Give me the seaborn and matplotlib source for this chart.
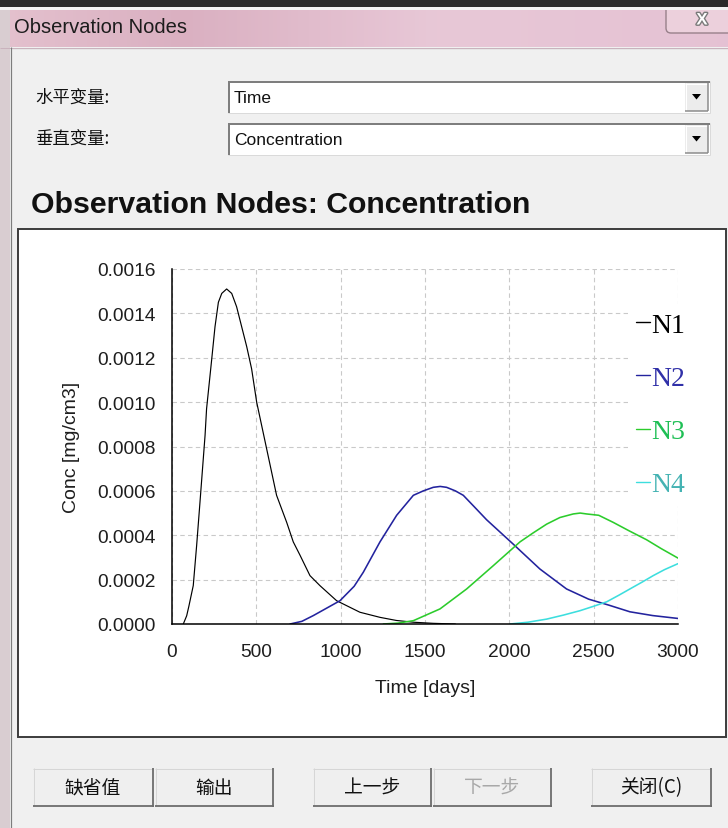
import numpy as np
import pandas as pd
import matplotlib
matplotlib.use("Agg")
import matplotlib.pyplot as plt
import seaborn as sns
from matplotlib.patches import Rectangle, FancyBboxPatch, Polygon
from matplotlib.ticker import FormatStrFormatter
import matplotlib.patheffects as pe

# ---------------- data ----------------
n1_time = [67, 87, 100, 126, 146, 166, 196, 205, 235, 255, 275, 295, 324, 354, 383,
           413, 443, 472, 502, 561, 620, 680, 719, 759, 818, 877, 976, 1114, 1233,
           1330, 1431, 1550, 1680]
n1_conc = [0.0, 0.000037, 0.00008, 0.000173, 0.000353, 0.00055, 0.00085, 0.00097,
           0.00119, 0.00134, 0.00145, 0.00149, 0.00151, 0.00149, 0.00143, 0.00134,
           0.00125, 0.00115, 0.00100, 0.00079, 0.00058, 0.000458, 0.00037, 0.00031,
           0.000218, 0.000173, 0.000105, 0.000053, 0.00003, 0.000016, 0.000008,
           0.000003, 0.0]

n2_time = [700, 770, 838, 996, 1080, 1134, 1233, 1332, 1431, 1490, 1549, 1590, 1628,
           1680, 1727, 1790, 1865, 2023, 2181, 2339, 2470, 2590, 2715, 2850, 3000]
n2_conc = [0.0, 0.000012, 0.000038, 0.000105, 0.00017, 0.000233, 0.00037, 0.00049,
           0.00058, 0.0006, 0.000616, 0.00062, 0.000616, 0.0006, 0.00058, 0.00053,
           0.00047, 0.00036, 0.000248, 0.000158, 0.000112, 0.000085, 0.000055,
           0.000038, 0.000025]

n3_time = [1253, 1340, 1431, 1589, 1747, 1905, 2063, 2140, 2221, 2300, 2379, 2420,
           2458, 2530, 2616, 2710, 2813, 2900, 3000]
n3_conc = [0.0, 0.000004, 0.000015, 0.000068, 0.000158, 0.000263, 0.00037, 0.00041,
           0.00045, 0.00048, 0.000496, 0.0005, 0.000496, 0.00049, 0.000458, 0.00042,
           0.00038, 0.00034, 0.000297]

n4_time = [2004, 2110, 2221, 2320, 2419, 2500, 2577, 2650, 2715, 2790, 2853, 2920, 3000]
n4_conc = [0.0, 0.000008, 0.000022, 0.00004, 0.00006, 0.00008, 0.0001, 0.00013,
           0.000158, 0.00019, 0.000218, 0.000245, 0.000272]

node_names = ["N1", "N2", "N3", "N4"]
line_colors = ["#000000", "#23239e", "#2ccc2c", "#3ddede"]
legend_text_colors = ["#000000", "#3030a8", "#1fbf55", "#45b3b3"]

x_ticks = [0, 500, 1000, 1500, 2000, 2500, 3000]
y_ticks = [0.0, 0.0002, 0.0004, 0.0006, 0.0008, 0.0010, 0.0012, 0.0014, 0.0016]

df = pd.concat([
    pd.DataFrame({"Time": t, "Conc": c, "Node": n})
    for t, c, n in zip([n1_time, n2_time, n3_time, n4_time],
                       [n1_conc, n2_conc, n3_conc, n4_conc], node_names)
], ignore_index=True)

# ---------------- figure / window chrome ----------------
sns.set_theme(style="white")
plt.rcParams["font.family"] = ["Liberation Sans", "Noto Sans CJK SC", "DejaVu Sans"]
CJK = ["Noto Sans CJK SC", "DejaVu Sans"]

W, H = 728, 829
fig = plt.figure(figsize=(W / 100, H / 100), dpi=100)
bg = fig.add_axes([0, 0, 1, 1])
bg.set_xlim(0, W)
bg.set_ylim(H, 0)
bg.axis("off")
bg.set_zorder(0)

PX = 0.72  # one pixel in points


def rect(x0, y0, x1, y1, fc, ec="none", lw=0, z=1):
    bg.add_patch(Rectangle((x0, y0), x1 - x0, y1 - y0, fc=fc, ec=ec, lw=lw, zorder=z))


def seg(x0, y0, x1, y1, c, w=1, z=3):
    bg.plot([x0, x1], [y0, y1], color=c, lw=w * PX, solid_capstyle="butt", zorder=z)


# client area
rect(0, 0, W, H, "#f0f0f0", z=0)
# title bar gradient (pink)
grad_x = np.linspace(0, 1, 200)
cl = np.array([0.894, 0.757, 0.808])
cd = np.array([0.855, 0.690, 0.757])
cm = np.array([0.910, 0.784, 0.843])
ce = np.array([0.898, 0.760, 0.830])
g = np.empty((1, 200, 3))
for i, t in enumerate(grad_x):
    if t < 0.25:
        g[0, i] = cl + (cd - cl) * (t / 0.25)
    elif t < 0.6:
        g[0, i] = cd + (cm - cd) * ((t - 0.25) / 0.35)
    else:
        g[0, i] = cm + (ce - cm) * ((t - 0.6) / 0.4)
bg.imshow(g, extent=[0, W, 48, 10.5], aspect="auto", zorder=1)
seg(0, 48.5, W, 48.5, "#c9b3bd", 1)
seg(12, 50, W, 50, "#e6e6e6", 1)
# left window frame
rect(0, 10.5, 10, H, "#d9cdd1", z=2)
seg(10.5, 48, 10.5, H, "#7d7d7d", 1.2)
# close button
bg.add_patch(FancyBboxPatch((666, 0), 90, 34, boxstyle="round,pad=0,rounding_size=5",
                            fc="#ecd0dc", ec="#98808a", lw=1.0, zorder=3))
bg.text(702, 21, "X", fontsize=12, fontweight="bold", color="white", ha="center",
        va="center", zorder=6,
        path_effects=[pe.withStroke(linewidth=2, foreground="#7a7a7a")])
# dark strip on top + thin light line
rect(0, 0, W, 8, "#2a2a2a", z=7)
rect(0, 8, W, 10.5, "#f2f2f2", z=7)
# window title
bg.text(14, 27, "Observation Nodes", fontsize=14.5, color="#1c1c1c", va="center", zorder=6)

# selector labels
bg.text(35, 98, "水平变量:", fontsize=12.5, family=CJK, va="center", color="#111")
bg.text(35, 140, "垂直变量:", fontsize=12.5, family=CJK, va="center", color="#111")


def combo(y0, y1, text):
    rect(228, y0, 710, y1, "white", z=2)
    seg(228, y0 + 0.5, 710, y0 + 0.5, "#7e7e7e", 2)
    seg(228.5, y0, 228.5, y1, "#7e7e7e", 2)
    seg(228, y1 - 0.5, 710, y1 - 0.5, "#dadada", 1)
    seg(709.5, y0, 709.5, y1, "#dadada", 1)
    # arrow button
    rect(685, y0 + 2, 708, y1 - 2, "#ececec", z=3)
    seg(685, y0 + 2.5, 708, y0 + 2.5, "#ffffff", 1, z=4)
    seg(685.5, y0 + 2, 685.5, y1 - 2, "#ffffff", 1, z=4)
    seg(685, y1 - 2.5, 708, y1 - 2.5, "#8a8a8a", 1.5, z=4)
    seg(707.5, y0 + 2, 707.5, y1 - 2, "#8a8a8a", 1.5, z=4)
    cy = (y0 + y1) / 2
    bg.add_patch(Polygon([[692, cy - 3], [701, cy - 3], [696.5, cy + 2.5]],
                         closed=True, fc="black", ec="none", zorder=5))
    bg.text(234, cy, text, fontsize=12.5, va="center", color="#111", zorder=5)


combo(82, 114, "Time")
combo(124, 156, "Concentration")

# chart title
bg.text(31, 205, "Observation Nodes: Concentration", fontsize=21.8, fontweight="bold",
        va="center", color="#111")

# chart panel
rect(18, 230, 726, 738, "white", ec="#3c3c3c", lw=1.4, z=2)

# buttons
buttons = [(33, 153, "缺省值", "#111"), (155, 273, "输出", "#111"),
           (313, 431, "上一步", "#111"), (433, 551, "下一步", "#a8a8a8"),
           (591, 711, "关闭(C)", "#111")]
for x0, x1, lab, col in buttons:
    rect(x0, 769, x1, 807, "#efefef", z=2)
    seg(x0, 769.5, x1, 769.5, "#d6d6d6", 1)
    seg(x0 + 0.5, 769, x0 + 0.5, 807, "#d6d6d6", 1)
    seg(x0, 807, x1 + 1, 807, "#6c6c6c", 1.8)
    seg(x1, 769, x1, 808, "#6c6c6c", 1.8)
    bg.text((x0 + x1) / 2, 788, lab, fontsize=13.5, family=CJK, ha="center",
            va="center", color=col, zorder=5)

# ---------------- the chart ----------------
L, R, T, B = 172, 678, 270, 625
ax = fig.add_axes([L / W, 1 - B / H, (R - L) / W, (B - T) / H])
ax.set_zorder(2)
ax.patch.set_alpha(0)

sns.lineplot(data=df, x="Time", y="Conc", hue="Node", hue_order=node_names,
             palette=dict(zip(node_names, line_colors)), estimator=None, sort=True,
             linewidth=1.15, legend=False, ax=ax)
ax.lines[0].set_linewidth(0.85)

ax.set_xlim(x_ticks[0], x_ticks[-1])
ax.set_ylim(y_ticks[0], y_ticks[-1])
ax.set_xticks(x_ticks)
ax.set_yticks(y_ticks)
ax.yaxis.set_major_formatter(FormatStrFormatter("%.4f"))
ax.grid(True, linestyle=(0, (4, 3)), color="#c9c9c9", linewidth=0.8)
ax.set_axisbelow(True)
for s in ["top", "right"]:
    ax.spines[s].set_visible(False)
for s in ["left", "bottom"]:
    ax.spines[s].set_color("black")
    ax.spines[s].set_linewidth(1.1)
ax.tick_params(axis="both", direction="inout", length=7, width=1.0, color="black",
               labelsize=13.8, labelcolor="#1e1e1e")
ax.tick_params(axis="y", pad=8.5)
ax.tick_params(axis="x", pad=10.5)

ax.set_xlabel("Time [days]", fontsize=14, color="#1e1e1e", va="center")
ax.set_ylabel("Conc [mg/cm3]", fontsize=14, color="#1e1e1e", va="center")
ax.xaxis.set_label_coords((425 - L) / (R - L), (B - 689) / (B - T))
ax.yaxis.set_label_coords((71 - L) / (R - L), (B - 447) / (B - T))

handles = ax.lines[:4]
leg = ax.legend(handles, node_names, loc="upper left",
                bbox_to_anchor=(628 / W, 1 - 305 / H), bbox_transform=fig.transFigure,
                prop={"family": "Liberation Serif", "size": 20},
                handlelength=0.5, handletextpad=0.05, labelspacing=1.0,
                frameon=True, facecolor="white", edgecolor="none", framealpha=1,
                fancybox=False, borderpad=0.3, borderaxespad=0)
for txt, c in zip(leg.get_texts(), legend_text_colors):
    txt.set_color(c)
for h in leg.legend_handles:
    h.set_linewidth(1.0)

fig.savefig("out.png", dpi=100)
